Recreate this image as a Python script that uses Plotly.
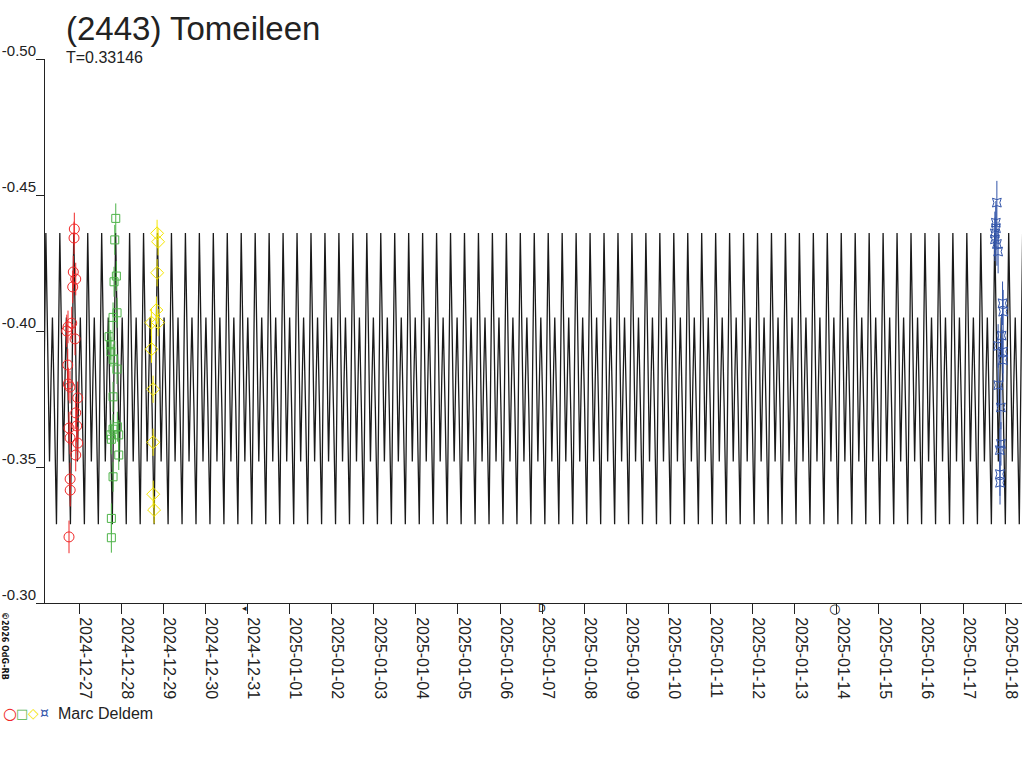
import numpy as np
import pandas as pd
import plotly.graph_objects as go

# ---- data ------------------------------------------------------------------
period_days = 0.33146
epoch_min = "2025-01-03 18:01"          # time of a deep minimum of the model curve
curve_start = "2024-12-26 04:36"
curve_end = "2025-01-18 09:35"

# one cycle of the fitted model curve (phase, relative mag)
cycle_phase = [0.00, 0.12, 0.24, 0.37, 0.50, 0.61, 0.71, 0.85]
cycle_mag = [-0.329, -0.385, -0.436, -0.395, -0.352, -0.382, -0.405, -0.372]

red_time = ["2024-12-26 21:19", "2024-12-26 21:09", "2024-12-26 20:44", "2024-12-26 22:07",
            "2024-12-26 20:24", "2024-12-26 19:50", "2024-12-26 17:00", "2024-12-26 17:43",
            "2024-12-26 21:43", "2024-12-26 17:33", "2024-12-26 17:54", "2024-12-26 18:50",
            "2024-12-26 23:15", "2024-12-26 22:07", "2024-12-26 18:17", "2024-12-26 22:41",
            "2024-12-26 18:53", "2024-12-26 23:15", "2024-12-26 22:07", "2024-12-26 18:55",
            "2024-12-26 18:58", "2024-12-26 18:17"]
red_mag = [-0.4375, -0.4342, -0.4217, -0.4191, -0.4162, -0.4029, -0.4000, -0.4015,
           -0.3971, -0.3875, -0.3805, -0.3794, -0.3754, -0.3699, -0.3643, -0.3651,
           -0.3607, -0.3588, -0.3544, -0.3456, -0.3415, -0.3243]
red_err = 0.006

green_time = ["2024-12-27 20:56", "2024-12-27 20:22", "2024-12-27 21:17", "2024-12-27 19:58",
              "2024-12-27 21:41", "2024-12-27 19:24", "2024-12-27 17:07", "2024-12-27 18:06",
              "2024-12-27 18:10", "2024-12-27 19:28", "2024-12-27 21:41", "2024-12-27 19:24",
              "2024-12-27 21:51", "2024-12-27 19:24", "2024-12-27 18:06", "2024-12-27 22:39",
              "2024-12-27 18:26", "2024-12-27 22:39", "2024-12-27 19:24", "2024-12-27 18:26",
              "2024-12-27 18:26"]
green_mag = [-0.4414, -0.4335, -0.4202, -0.4181, -0.4067, -0.4050, -0.3979, -0.3949,
             -0.3924, -0.3896, -0.3860, -0.3758, -0.3648, -0.3639, -0.3618, -0.3618,
             -0.3602, -0.3544, -0.3464, -0.3311, -0.3240]
green_err = 0.0055

yellow_time = ["2024-12-28 20:30", "2024-12-28 21:04", "2024-12-28 20:32", "2024-12-28 20:06",
               "2024-12-28 17:15", "2024-12-28 21:04", "2024-12-28 17:20", "2024-12-28 18:13",
               "2024-12-28 18:15", "2024-12-28 18:17", "2024-12-28 18:48"]
yellow_mag = [-0.4359, -0.4328, -0.4214, -0.4077, -0.4031, -0.4031, -0.3933, -0.3786,
              -0.3591, -0.3400, -0.3342]
yellow_err = 0.005

blue_time = ["2025-01-17 19:15", "2025-01-17 18:41", "2025-01-17 18:45", "2025-01-17 18:07",
             "2025-01-17 18:10", "2025-01-17 19:17", "2025-01-17 19:59", "2025-01-17 22:30",
             "2025-01-17 22:51", "2025-01-17 21:56", "2025-01-17 19:59", "2025-01-17 22:41",
             "2025-01-17 22:45", "2025-01-17 20:03", "2025-01-17 21:32", "2025-01-17 21:35",
             "2025-01-17 20:57", "2025-01-17 21:00", "2025-01-17 21:03"]
blue_mag = [-0.4472, -0.4398, -0.4378, -0.4359, -0.4337, -0.4320, -0.4292, -0.4102,
            -0.4071, -0.3983, -0.3945, -0.3924, -0.3893, -0.3801, -0.3719, -0.3585,
            -0.3562, -0.3474, -0.3442]
blue_err = 0.008

x_ticks = ["2024-12-27", "2024-12-28", "2024-12-29", "2024-12-30", "2024-12-31",
           "2025-01-01", "2025-01-02", "2025-01-03", "2025-01-04", "2025-01-05",
           "2025-01-06", "2025-01-07", "2025-01-08", "2025-01-09", "2025-01-10",
           "2025-01-11", "2025-01-12", "2025-01-13", "2025-01-14", "2025-01-15",
           "2025-01-16", "2025-01-17", "2025-01-18"]
y_ticks = [-0.50, -0.45, -0.40, -0.35, -0.30]
y_ticklabels = ["-0.50", "-0.45", "-0.40", "-0.35", "-0.30"]

moon_time = ["2024-12-30 22:27", "2025-01-06 23:56", "2025-01-13 22:27"]
moon_mark = ["◂", "D", "○"]
moon_size = [9, 10, 13]

observer = "Marc Deldem"
title = "(2443) Tomeileen"
subtitle = "T=0.33146"

# ---- model curve: the single read cycle repeated with period T -------------
ep = pd.Timestamp(epoch_min)
t0 = pd.Timestamp(curve_start)
t1 = pd.Timestamp(curve_end)
k0 = int(np.floor((t0 - ep) / pd.Timedelta(days=period_days))) - 1
k1 = int(np.ceil((t1 - ep) / pd.Timedelta(days=period_days))) + 1
curve_t, curve_m = [], []
for k in range(k0, k1):
    for ph, m in zip(cycle_phase, cycle_mag):
        curve_t.append(ep + pd.Timedelta(days=(k + ph) * period_days))
        curve_m.append(m)

# ---- figure ---------------------------------------------------------------
W, H = 1024, 768
FONT = "Liberation Sans, Arial, sans-serif"
L, R, T, B = 45, 1022, 59, 603   # plot area in page pixels


def px_x(p):
    return (p - L) / (R - L)


def px_y(p):
    return (B - p) / (B - T)


fig = go.Figure()
fig.add_trace(go.Scatter(x=curve_t, y=curve_m, mode="lines",
                         line=dict(color="#1a1a1a", width=1.3), hoverinfo="skip"))

groups = [
    (red_time, red_mag, red_err, "#F02828", "circle-open", 10),
    (green_time, green_mag, green_err, "#4DB348", "square-open", 8),
    (yellow_time, yellow_mag, yellow_err, "#F5E600", "diamond-open", 10),
    (blue_time, blue_mag, blue_err, "#3355AA", "star-square-open", 8),
]
for tt, mm, ee, col, sym, sz in groups:
    fig.add_trace(go.Scatter(
        x=pd.to_datetime(tt), y=mm, mode="markers",
        marker=dict(symbol=sym, size=sz, color=col, line=dict(width=1, color=col)),
        error_y=dict(type="constant", value=ee, color=col, thickness=1, width=0),
        name=observer,
    ))

fig.update_xaxes(
    type="date", range=[curve_start, curve_end], automargin=False,
    tickvals=x_ticks, ticktext=x_ticks, tickangle=90, ticklabelshift=6,
    ticks="outside", ticklen=10, tickcolor="#222", tickwidth=1,
    showline=True, linecolor="#222", linewidth=1, showgrid=False, zeroline=False,
    tickfont=dict(family=FONT, size=16, color="#222"),
)
fig.update_yaxes(
    range=[-0.30, -0.50], tickvals=y_ticks, ticktext=y_ticklabels, automargin=False,
    ticks="outside", ticklen=8, tickcolor="#222", tickwidth=1, ticklabelshift=8,
    ticklabelstandoff=-3,
    showline=True, linecolor="#222", linewidth=1, showgrid=False, zeroline=False,
    tickfont=dict(family=FONT, size=15, color="#222"),
)

ann = [
    dict(x=px_x(64), y=px_y(29), text=title, xanchor="left", yanchor="middle",
         font=dict(family=FONT, size=33, color="#222")),
    dict(x=px_x(64), y=px_y(58), text=subtitle, xanchor="left", yanchor="middle",
         font=dict(family=FONT, size=16, color="#222")),
    dict(x=px_x(5), y=px_y(646), text="<b>©2026 OdG-RB</b>", textangle=90,
         xanchor="center", yanchor="middle",
         font=dict(family="DejaVu Sans", size=8, color="#111")),
    dict(x=px_x(56), y=px_y(713), text=observer, xanchor="left", yanchor="middle",
         font=dict(family=FONT, size=16, color="#222")),
]
legend_glyphs = [("○", "#F02828", 10, 16), ("□", "#4DB348", 22, 13),
                 ("◇", "#F5E600", 33, 14), ("¤", "#3355AA", 44, 14)]
for g, col, xp, fs in legend_glyphs:
    ann.append(dict(x=px_x(xp), y=px_y(713), text=g, xanchor="center", yanchor="middle",
                    font=dict(family="DejaVu Sans", size=fs, color=col)))
for mt, mk, ms in zip(moon_time, moon_mark, moon_size):
    ann.append(dict(x=mt, xref="x", y=px_y(608), text=mk, xanchor="center",
                    yanchor="middle", font=dict(family="DejaVu Sans", size=ms, color="#222")))
for a in ann:
    a.setdefault("xref", "paper")
    a["yref"] = "paper"
    a["showarrow"] = False

fig.update_layout(
    width=W, height=H, showlegend=False,
    margin=dict(l=L, r=W - R, t=T, b=H - B, pad=0),
    paper_bgcolor="white", plot_bgcolor="white",
    annotations=ann,
)

# drop the browser's default 8px body margin so the figure sits at (0, 0)
fig.write_html("out.html", config={"displayModeBar": False},
               post_script="document.body.style.margin = '0';")
